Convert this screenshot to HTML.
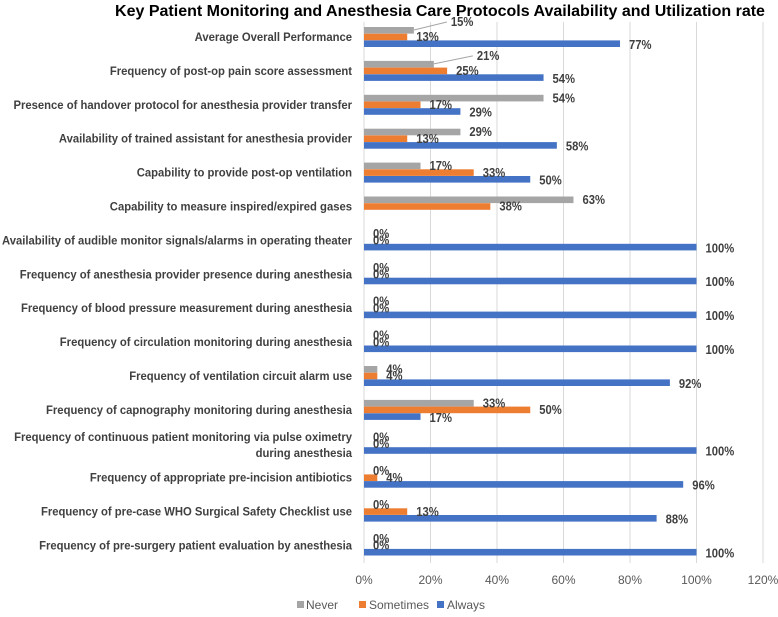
<!DOCTYPE html>
<html><head><meta charset="utf-8"><style>
body{margin:0;background:#fff;}
svg{display:block;font-family:"Liberation Sans",Arial,sans-serif;}
</style></head><body>
<svg id="chart" width="778" height="617" viewBox="0 0 778 617" xmlns="http://www.w3.org/2000/svg">
<text x="440" y="16" text-anchor="middle" font-size="16" font-weight="bold" fill="#000">Key Patient Monitoring and Anesthesia Care Protocols Availability and Utilization rate</text>
<g id="grid"></g><g id="bars"></g><g id="labels"></g><g id="cats"></g><g id="ticks"></g>
<g>
<rect x="297" y="601" width="7" height="7" fill="#a5a5a5"/>
<text x="306" y="609" font-size="12" fill="#595959">Never</text>
<rect x="359" y="601" width="7" height="7" fill="#ed7d31"/>
<text x="369" y="609" font-size="12" fill="#595959">Sometimes</text>
<rect x="437" y="601" width="7" height="7" fill="#4472c4"/>
<text x="447" y="609" font-size="12" fill="#595959">Always</text>
</g>
</svg>
<script>
const categories=["Average Overall Performance","Frequency of post-op pain score assessment","Presence of handover protocol for anesthesia provider transfer","Availability of trained assistant for anesthesia provider","Capability to provide post-op ventilation","Capability to measure inspired/expired gases","Availability of audible monitor signals/alarms in operating theater","Frequency of anesthesia provider presence during anesthesia","Frequency of blood pressure measurement during anesthesia","Frequency of circulation monitoring during anesthesia","Frequency of ventilation circuit alarm use","Frequency of capnography monitoring during anesthesia","Frequency of continuous patient monitoring via pulse oximetry|during anesthesia","Frequency of appropriate pre-incision antibiotics","Frequency of pre-case WHO Surgical Safety Checklist use","Frequency of pre-surgery patient evaluation by anesthesia"];
const never=[15,21,54,29,17,63,0,0,0,0,4,33,0,0,0,0];
const sometimes=[13,25,17,13,33,38,0,0,0,0,4,50,0,4,13,0];
const always=[77,54,29,58,50,null,100,100,100,100,92,17,100,96,88,100];
const ticks=[0,20,40,60,80,100,120];
const NS="http://www.w3.org/2000/svg";
const x=v=>364+v*3.325;
const yc=i=>37+i*33.9;
function mk(tag,attrs,parent,txt){const e=document.createElementNS(NS,tag);for(const k in attrs)e.setAttribute(k,attrs[k]);if(txt!=null)e.textContent=txt;document.getElementById(parent).appendChild(e);return e;}
ticks.forEach(t=>{
  const g=mk('line',{x1:x(t),x2:x(t),y1:22,y2:563,stroke:'#d9d9d9','stroke-width':1},'grid');
  
  
  const l=mk('text',{x:x(t),y:584,'text-anchor':'middle','font-size':12,fill:'#595959'},'ticks',t+'%');
  
  
});
const series=[[never,'#a5a5a5',-10,'never'],[sometimes,'#ed7d31',-3.3,'sometimes'],[always,'#4472c4',3.4,'always']];
categories.forEach((c,i)=>{
  const cy=yc(i);
  series.forEach(([arr,col,off,nm],si)=>{
    const v=arr[i]; if(v===null) return;
    const r=mk('rect',{x:x(0),y:cy+off,width:Math.max(0,x(v)-x(0)),height:6.6,fill:col},'bars');
    
    
    let lx=x(v)+9, ly=cy+off+7.5;
    if(nm==='always') ly+=1;
    const lead=(nm==='never'&&(i===0||i===1));
    if(lead){lx=x(v)+(i===0?37:43); ly=cy+off-1;
      const ln=mk('line',{x1:x(v),y1:cy+off+3,x2:lx-4,y2:cy+off-5,stroke:'#a5a5a5','stroke-width':1},'labels');
      
      
    }
    const t=mk('text',{x:lx,y:ly,'font-size':12.5,'font-weight':'bold',fill:'#404040',transform:`translate(${lx},0) scale(0.9,1) translate(${-lx},0)`},'labels',v+'%');
    
    
  });
  const parts=c.split('|');
  parts.forEach((p,k)=>{
    const ty=cy+4+(parts.length>1?(k===0?-7:9):0);
    const t=mk('text',{x:352,y:ty,'text-anchor':'end','font-size':12,'font-weight':'bold',fill:'#404040',transform:`translate(352,0) scale(0.94,1) translate(-352,0)`},'cats',p);
    
    
  });
});
</script>
</body></html>
